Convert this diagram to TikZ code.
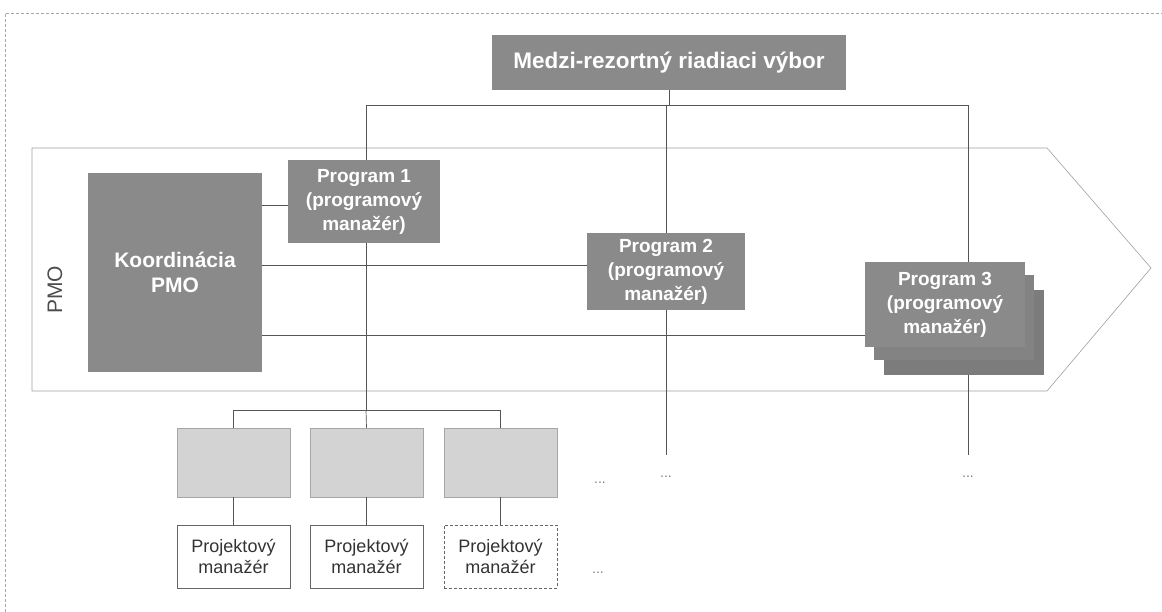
\documentclass[tikz,border=0pt]{standalone}
\usepackage{fontspec}
\setmainfont{Liberation Sans}
\definecolor{darkbox}{HTML}{8A8A8A}
\definecolor{lightbox}{HTML}{D3D3D3}
\definecolor{linegray}{HTML}{555555}
\begin{document}
\begin{tikzpicture}[x=1pt,y=-1pt,
  darkbox/.style={fill=darkbox, draw=none, text=white, align=center, inner sep=0pt,
    font=\bfseries\fontsize{19}{24}\selectfont},
  lightbox/.style={fill=lightbox, draw=gray!70, line width=0.5pt, inner sep=0pt,
    minimum width=113pt, minimum height=69pt},
  pmbox/.style={fill=white, draw=gray!80!black, line width=0.5pt, align=center, inner sep=0pt,
    minimum width=113pt, minimum height=63pt, font=\fontsize{18}{21}\selectfont, text=black!80},
  conn/.style={draw=linegray, line width=0.7pt},
  frame/.style={draw=gray!70, line width=0.5pt, densely dashed},
  dots/.style={font=\fontsize{14}{14}\selectfont, text=gray}
]
\useasboundingbox (0,0) rectangle (1162,612);

% page frame
\draw[frame] (5,612) -- (5,13) -- (1162,13);

% PMO arrow band
\draw[draw=gray!75, line width=0.6pt]
  (32,148) -- (1047,148) -- (1151,268) -- (1047,391) -- (32,391) -- cycle;
\node[rotate=90, font=\fontsize{21}{21}\selectfont, text=black!70] (pmolabel) at (55,290) {PMO};

% steering committee
\node[darkbox, minimum width=354pt, minimum height=55pt,
      font=\bfseries\fontsize{22.5}{26}\selectfont] (top) at (669,62.5) {Medzi-rezortný riadiaci výbor};

% PMO coordination
\node[darkbox, minimum width=174pt, minimum height=199pt,
      font=\bfseries\fontsize{21}{25}\selectfont] (koord) at (175,272.5) {Koordinácia\\PMO};

% programmes
\node[darkbox, minimum width=152pt, minimum height=83pt] (p1) at (364,201.5)
  {Program 1\\(programový\\manažér)};
\node[darkbox, minimum width=158pt, minimum height=77pt] (p2) at (666,271.5)
  {Program 2\\(programový\\manažér)};
\node[darkbox, minimum width=160pt, minimum height=85pt, fill=darkbox!90!black] (p3c) at (964,332.5) {};
\node[darkbox, minimum width=160pt, minimum height=85pt, fill=darkbox!95!black] (p3b) at (954,317.5) {};
\node[darkbox, minimum width=160pt, minimum height=85pt] (p3) at (945,304.5)
  {Program 3\\(programový\\manažér)};

% projects
\node[lightbox] (l1) at (233.5,462.5) {};
\node[lightbox] (l2) at (366.5,462.5) {};
\node[lightbox] (l3) at (500.5,462.5) {};
\node[pmbox] (m1) at (233.5,556.5) {Projektový\\manažér};
\node[pmbox] (m2) at (366.5,556.5) {Projektový\\manažér};
\node[pmbox, densely dashed] (m3) at (500.5,556.5) {Projektový\\manažér};

% bus from the committee
\coordinate (busc) at (669,105);
\coordinate (bus1) at (366,105);
\coordinate (bus2) at (666,105);
\coordinate (bus3) at (968,105);
\draw[conn] (top.south) -- (busc);
\draw[conn] (bus1) -- (bus3);
\draw[conn] (bus1) -- (bus1 |- p1.north);
\draw[conn] (bus2) -- (bus2 |- p2.north);
\draw[conn] (bus3) -- (bus3 |- p3.north);

% coordination links
\draw[conn] (koord.east |- 0,205) -- (p1.west |- 0,205);
\draw[conn] (koord.east |- 0,265) -- (p2.west |- 0,265);
\draw[conn] (koord.east |- 0,335) -- (p3.west |- 0,335);

% programme 1 to its projects
\coordinate (pj) at (366,410);
\coordinate (pjl) at (233.5,410);
\coordinate (pjr) at (500.5,410);
\draw[conn] (bus1 |- p1.south) -- (pj);
\draw[conn] (pjl) -- (pjr);
\draw[conn] (pjl) -- (l1.north);
\draw[conn] (pj) -- (l2.north);
\draw[conn] (pjr) -- (l3.north);
\draw[conn] (l1.south) -- (m1.north);
\draw[conn] (l2.south) -- (m2.north);
\draw[conn] (l3.south) -- (m3.north);

% further branches
\coordinate (e2) at (666,455);
\coordinate (e3) at (968,455);
\draw[conn] (bus2 |- p2.south) -- (e2);
\draw[conn] (bus3 |- p3c.south) -- (e3);
\node[dots] (d1) at (600,483) {...};
\node[dots] (d2) at (666,477) {...};
\node[dots] (d3) at (968,477) {...};
\node[dots] (d4) at (598,573) {...};
\end{tikzpicture}
\end{document}
